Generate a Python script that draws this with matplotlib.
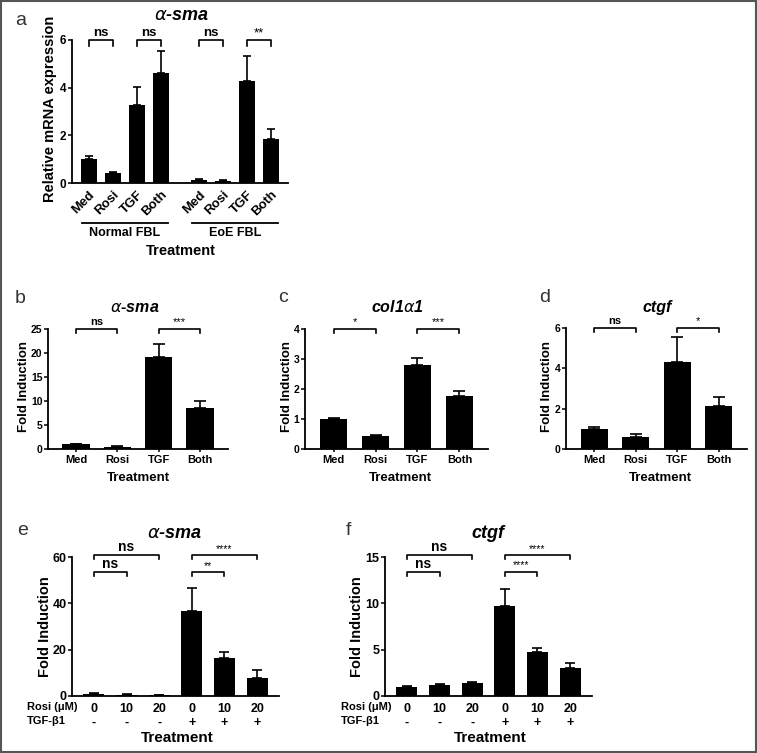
import matplotlib
matplotlib.use('Agg')
import matplotlib.pyplot as plt
import matplotlib.patches as patches

plt.rcParams['font.family'] = ['Liberation Sans', 'DejaVu Sans']
plt.rcParams['mathtext.fontset'] = 'dejavusans'

# ---- data ----
a_labels = ['Med', 'Rosi', 'TGF', 'Both', 'Med', 'Rosi', 'TGF', 'Both']
a_normal_mean = [1.0, 0.42, 3.27, 4.6]
a_normal_err = [0.15, 0.05, 0.77, 0.93]
a_eoe_mean = [0.13, 0.09, 4.3, 1.85]
a_eoe_err = [0.03, 0.02, 1.03, 0.4]
a_groups = ['Normal FBL', 'EoE FBL']
a_sig = ['ns', 'ns', 'ns', '**']

bcd_labels = ['Med', 'Rosi', 'TGF', 'Both']
b_mean = [1.0, 0.45, 19.1, 8.5]
b_err = [0.1, 0.1, 2.7, 1.5]
b_sig = ['ns', '***']
c_mean = [1.0, 0.42, 2.8, 1.78]
c_err = [0.03, 0.05, 0.25, 0.14]
c_sig = ['*', '***']
d_mean = [0.97, 0.58, 4.33, 2.15]
d_err = [0.12, 0.16, 1.2, 0.43]
d_sig = ['ns', '*']

rosi_doses = ['0', '10', '20', '0', '10', '20']
tgf_status = ['-', '-', '-', '+', '+', '+']
e_mean = [1.0, 0.6, 0.5, 36.5, 16.5, 7.8]
e_err = [0.3, 0.2, 0.1, 10.2, 2.5, 3.3]
e_sig = ['ns', 'ns', '****', '**']
f_mean = [1.0, 1.2, 1.4, 9.7, 4.7, 3.05]
f_err = [0.1, 0.1, 0.08, 1.8, 0.45, 0.55]
f_sig = ['ns', 'ns', '****', '****']

W, H = 757, 753
fig = plt.figure(figsize=(W / 100, H / 100), dpi=100)


def make_axes(x0, y0, x1, y1):
    ax = fig.add_axes([x0 / W, (H - y0) / H, (x1 - x0) / W, (y0 - y1) / H])
    for s in ['top', 'right']:
        ax.spines[s].set_visible(False)
    for s in ['left', 'bottom']:
        ax.spines[s].set_linewidth(1.3)
    ax.tick_params(direction='out', length=3, width=1.1, pad=1)
    return ax


def ftext(x, y, s, **kw):
    fig.text(x / W, 1 - y / H, s, **kw)


def bars(ax, pos, mean, err, width, capsize):
    ax.bar(pos, mean, width=width, color='black', zorder=2)
    ax.errorbar(pos, mean, yerr=[[0] * len(err), err], fmt='none', ecolor='black',
                elinewidth=1.2, capsize=capsize, capthick=1.2, zorder=1)


def bracket(ax, x1, x2, y, h, text, fs, dy):
    ax.plot([x1, x1, x2, x2], [y - h, y, y, y - h], color='black', lw=1.2, clip_on=False)
    bold = 'bold' if text == 'ns' else 'normal'
    ax.text((x1 + x2) / 2, y + dy, text, ha='center', va='bottom', fontsize=fs,
            fontweight=bold)


def yticks_bold(ax, ticks, fs):
    ax.set_yticks(ticks)
    ax.set_yticklabels([str(t) for t in ticks], fontsize=fs, fontweight='bold')


# ---------- panel a ----------
ax = make_axes(72, 183, 288, 40)
a_pos = [0, 1, 2, 3, 4.6, 5.6, 6.6, 7.6]
bars(ax, a_pos[:4], a_normal_mean, a_normal_err, 0.67, 2.8)
bars(ax, a_pos[4:], a_eoe_mean, a_eoe_err, 0.67, 2.8)
ax.set_xlim(-0.7, 8.3)
ax.set_ylim(0, 6)
yticks_bold(ax, [0, 2, 4, 6], 8.5)
ax.set_xticks(a_pos)
ax.set_xticklabels(a_labels, rotation=45, ha='right', rotation_mode='anchor',
                   fontsize=9.5, fontweight='bold')
ax.tick_params(axis='x', length=0, pad=4)
for i, s in enumerate(a_sig):
    bracket(ax, a_pos[2 * i], a_pos[2 * i + 1], 5.98, 0.25, s, 9.5, 0.06)
trans = ax.get_xaxis_transform()
for g, s in enumerate(a_groups):
    c = (a_pos[4 * g] + a_pos[4 * g + 3]) / 2
    line = plt.Line2D([c - 1.8, c + 1.8], [-40 / 143, -40 / 143], color='black', lw=1.3,
                      transform=trans, clip_on=False)
    ax.add_line(line)
    ax.text(c, -50 / 143, s, transform=trans, ha='center', va='center', fontsize=9,
            fontweight='bold')
ftext(181, 251, 'Treatment', ha='center', va='center', fontsize=10.5, fontweight='bold')
ftext(50, 109, 'Relative mRNA expression', ha='center', va='center', rotation=90,
      fontsize=10.5, fontweight='bold')
ftext(182, 15, r'$\alpha$-sma', ha='center', va='center', fontsize=13,
      fontweight='bold', fontstyle='italic')

# ---------- panels b, c, d ----------
bcd = [
    ((48, 449, 228, 329), b_mean, b_err, b_sig, [0, 5, 10, 15, 20, 25], r'$\alpha$-sma', 135, 24),
    ((305, 449, 488, 329), c_mean, c_err, c_sig, [0, 1, 2, 3, 4], r'col1$\alpha$1', 397, 287),
    ((566, 449, 747, 328), d_mean, d_err, d_sig, [0, 2, 4, 6], 'ctgf', 657, 547),
]
for box, mean, err, sig, ticks, title, tx, lx in bcd:
    ax = make_axes(*box)
    pos = [0, 1, 2, 3]
    bars(ax, pos, mean, err, 0.66, 4)
    ax.set_xlim(-0.68, 3.68)
    ax.set_ylim(0, ticks[-1])
    yticks_bold(ax, ticks, 7.5)
    ax.set_xticks(pos)
    ax.set_xticklabels(bcd_labels, fontsize=8, fontweight='bold')
    ax.tick_params(axis='x', length=2, pad=2)
    top = ticks[-1]
    bracket(ax, 0, 1, top, top * 0.035, sig[0], 8, top * 0.02)
    bracket(ax, 2, 3, top, top * 0.035, sig[1], 8, top * 0.02)
    ftext(tx, 307, title, ha='center', va='center', fontsize=11.5, fontweight='bold',
          fontstyle='italic')
    ftext(lx, 386, 'Fold Induction', ha='center', va='center', rotation=90,
          fontsize=9.5, fontweight='bold')
    ftext(tx + 3, 478, 'Treatment', ha='center', va='center', fontsize=9.5,
          fontweight='bold')

# ---------- panels e, f ----------
ef = [
    ((72, 696, 279, 557), e_mean, e_err, e_sig, [0, 20, 40, 60], 60.8, 53.5, r'$\alpha$-sma', 175, 45, 27),
    ((385, 696, 592, 557), f_mean, f_err, f_sig, [0, 5, 10, 15], 15.2, 13.4, 'ctgf', 488, 357, 341),
]
for box, mean, err, sig, ticks, y_hi, y_lo, title, tx, lx, rx in ef:
    ax = make_axes(*box)
    pos = list(range(6))
    bars(ax, pos, mean, err, 0.64, 3.5)
    ax.set_xlim(-0.67, 5.67)
    ax.set_ylim(0, ticks[-1])
    yticks_bold(ax, ticks, 9)
    ax.set_xticks(pos)
    ax.set_xticklabels([d + '\n' + t for d, t in zip(rosi_doses, tgf_status)],
                       fontsize=9, fontweight='bold', linespacing=1.25)
    ax.tick_params(axis='x', length=0, pad=5)
    top = ticks[-1]
    h = top * 0.03
    bracket(ax, 0, 2, y_hi, h, sig[0], 10, top * 0.005)
    bracket(ax, 0, 1, y_lo, h, sig[1], 10, top * 0.005)
    bracket(ax, 3, 5, y_hi, h, sig[2], 7.5, top * 0.01)
    bracket(ax, 3, 4, y_lo, h, sig[3], 7.5, top * 0.01)
    ftext(rx, 707, 'Rosi (\u03bcM)', ha='left', va='center', fontsize=8,
          fontweight='bold')
    ftext(rx, 721, 'TGF-\u03b21', ha='left', va='center', fontsize=8, fontweight='bold')
    ftext(tx, 533, title, ha='center', va='center', fontsize=13, fontweight='bold',
          fontstyle='italic')
    ftext(lx, 627, 'Fold Induction', ha='center', va='center', rotation=90,
          fontsize=10.5, fontweight='bold')
    ftext(tx + 2, 738, 'Treatment', ha='center', va='center', fontsize=11,
          fontweight='bold')

# panel letters
for letter, x, y in [('a', 15, 25), ('b', 15, 303), ('c', 278, 302), ('d', 539, 302),
                     ('e', 17, 535), ('f', 346, 535)]:
    ftext(x, y, letter, ha='left', va='baseline', fontsize=14, color='#333333')

fig.patches.append(patches.Rectangle((0.001, 0.001), 0.998, 0.998, transform=fig.transFigure,
                                     fill=False, edgecolor='#555555', lw=1.5))

fig.savefig('out.png', dpi=100)
